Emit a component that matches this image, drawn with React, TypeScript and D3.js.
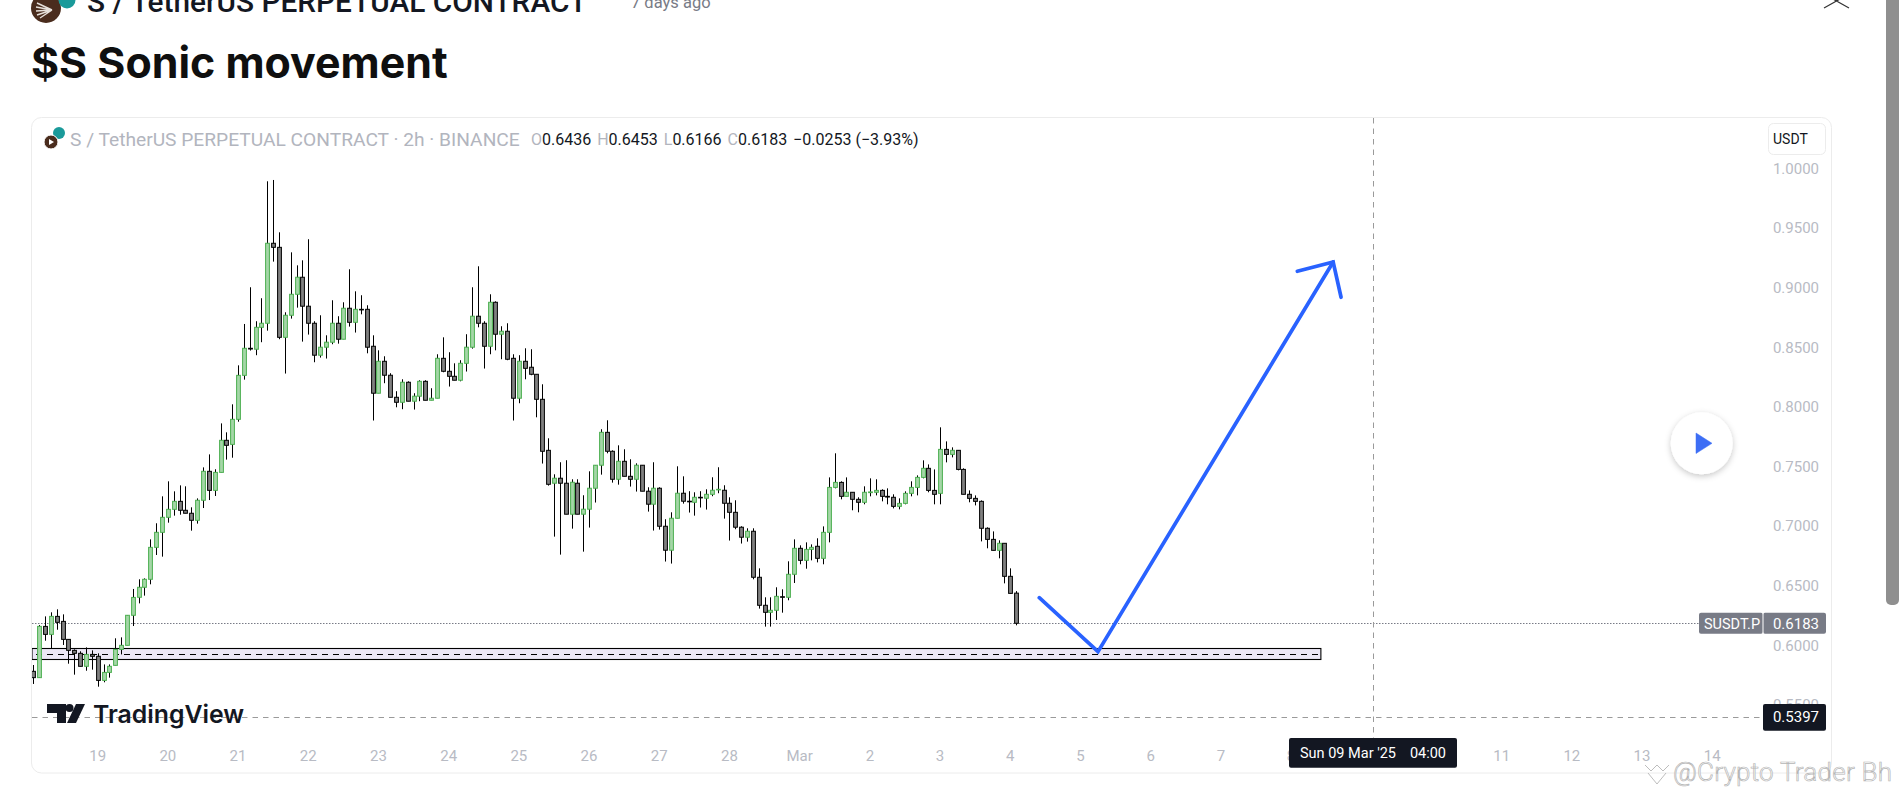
import * as d3 from "d3";

const opens = [
  0.578, 0.5727, 0.6157, 0.609, 0.6241, 0.6199, 0.6048, 0.5956, 0.5931, 0.5822,
  0.5922, 0.5906, 0.5704, 0.5771, 0.583, 0.5964, 0.5998, 0.625, 0.6401, 0.6485,
  0.6552, 0.682, 0.6946, 0.7072, 0.7139, 0.7206, 0.7131, 0.7106, 0.7047, 0.7215,
  0.7458, 0.7298, 0.7449, 0.7718, 0.7684, 0.7894, 0.8263, 0.849, 0.8482, 0.8666,
  0.87, 0.9371, 0.9337, 0.8582, 0.8767, 0.8943, 0.9086, 0.8843, 0.87, 0.8432,
  0.8499, 0.8541, 0.87, 0.8566, 0.8826, 0.8708, 0.8817, 0.8817, 0.8507, 0.8113,
  0.8381, 0.8264, 0.8079, 0.8037, 0.8205, 0.8046, 0.8088, 0.8213, 0.8054, 0.8071,
  0.8406, 0.8297, 0.8255, 0.8222, 0.8364, 0.8499, 0.8759, 0.87, 0.8507, 0.8876,
  0.8608, 0.8633, 0.8406, 0.8071, 0.8381, 0.8331, 0.8272, 0.8062, 0.7634, 0.7358,
  0.74, 0.7358, 0.7098, 0.7358, 0.7098, 0.714, 0.7316, 0.7509, 0.7785, 0.7626,
  0.7391, 0.7542, 0.7416, 0.7391, 0.7509, 0.7291, 0.7182, 0.7316, 0.6997, 0.6796,
  0.7064, 0.7274, 0.7207, 0.7198, 0.724, 0.7232, 0.7265, 0.7304, 0.7299, 0.719,
  0.7114, 0.6989, 0.6905, 0.6955, 0.6569, 0.6334, 0.6275, 0.6292, 0.6406, 0.6401,
  0.6594, 0.6812, 0.6711, 0.6803, 0.6829, 0.6728, 0.6946, 0.7323, 0.7365, 0.7248,
  0.7282, 0.7223, 0.7198, 0.7279, 0.7282, 0.7298, 0.7248, 0.724, 0.7164, 0.7189,
  0.7273, 0.7323, 0.7407, 0.7483, 0.7298, 0.7273, 0.7642, 0.76, 0.7634, 0.7474,
  0.7265, 0.7231, 0.7206, 0.698, 0.6887, 0.6795, 0.6854, 0.6577, 0.6436,
];
const highs = [
  0.5833, 0.6168, 0.6241, 0.6275, 0.63, 0.6258, 0.6048, 0.5964, 0.5948, 0.5981,
  0.5956, 0.5931, 0.5838, 0.5838, 0.6057, 0.6065, 0.625, 0.6471, 0.6552, 0.656,
  0.6887, 0.7022, 0.7248, 0.7374, 0.729, 0.734, 0.7332, 0.7156, 0.7231, 0.7491,
  0.76, 0.7475, 0.786, 0.7785, 0.802, 0.8347, 0.8694, 0.9002, 0.8717, 0.891,
  0.9891, 0.9902, 0.9463, 0.8792, 0.9295, 0.9186, 0.9228, 0.9405, 0.8717, 0.8767,
  0.8599, 0.8893, 0.8759, 0.8876, 0.9153, 0.8968, 0.8935, 0.8851, 0.8599, 0.8473,
  0.8423, 0.8281, 0.813, 0.823, 0.8213, 0.8113, 0.8222, 0.8222, 0.8155, 0.844,
  0.8582, 0.8457, 0.8364, 0.839, 0.8608, 0.9002, 0.9178, 0.8717, 0.8943, 0.8884,
  0.8675, 0.87, 0.844, 0.8432, 0.849, 0.8482, 0.8272, 0.8188, 0.7735, 0.7433,
  0.7534, 0.7551, 0.7391, 0.7391, 0.7257, 0.7458, 0.7509, 0.7811, 0.7886, 0.7634,
  0.7676, 0.7643, 0.7559, 0.7525, 0.7509, 0.7324, 0.7534, 0.7324, 0.7056, 0.7114,
  0.75, 0.7416, 0.7291, 0.7282, 0.7291, 0.7307, 0.7408, 0.7492, 0.7341, 0.724,
  0.7215, 0.6997, 0.698, 0.698, 0.6644, 0.6401, 0.6401, 0.6485, 0.6468, 0.6703,
  0.6887, 0.6837, 0.6862, 0.6845, 0.6896, 0.6996, 0.7407, 0.7609, 0.7374, 0.7407,
  0.7282, 0.724, 0.7332, 0.7399, 0.7391, 0.7307, 0.7315, 0.7265, 0.7231, 0.729,
  0.7374, 0.7424, 0.755, 0.7516, 0.7474, 0.7827, 0.7709, 0.7659, 0.7634, 0.7483,
  0.7298, 0.7256, 0.7214, 0.6988, 0.6954, 0.6879, 0.6854, 0.6644, 0.6453,
];
const lows = [
  0.5674, 0.5727, 0.6037, 0.5973, 0.6129, 0.6001, 0.5844, 0.5752, 0.5822, 0.5785,
  0.5794, 0.5651, 0.5688, 0.5727, 0.583, 0.5922, 0.5998, 0.616, 0.635, 0.6415,
  0.651, 0.6756, 0.6742, 0.7027, 0.7086, 0.7094, 0.7106, 0.696, 0.7019, 0.715,
  0.7217, 0.7251, 0.7449, 0.7556, 0.7572, 0.7874, 0.8227, 0.8471, 0.8432, 0.8541,
  0.8638, 0.9217, 0.8566, 0.8278, 0.8739, 0.8831, 0.8546, 0.8605, 0.8373, 0.8412,
  0.8404, 0.8524, 0.8529, 0.8566, 0.8672, 0.8622, 0.8775, 0.8448, 0.7884, 0.8113,
  0.8197, 0.8079, 0.7995, 0.7979, 0.8046, 0.7976, 0.8046, 0.8054, 0.8054, 0.8071,
  0.8289, 0.8169, 0.8222, 0.8213, 0.8295, 0.8487, 0.8666, 0.832, 0.844, 0.8473,
  0.8398, 0.839, 0.7884, 0.8029, 0.823, 0.8264, 0.7911, 0.7523, 0.7338, 0.691,
  0.6759, 0.7098, 0.6977, 0.7098, 0.6784, 0.6986, 0.7196, 0.743, 0.7609, 0.7363,
  0.7346, 0.7416, 0.733, 0.7288, 0.7291, 0.712, 0.6961, 0.6969, 0.6701, 0.6684,
  0.7064, 0.7187, 0.7112, 0.7086, 0.7154, 0.7137, 0.7249, 0.7274, 0.7061, 0.6877,
  0.6972, 0.6852, 0.6868, 0.6552, 0.6306, 0.6155, 0.6155, 0.6211, 0.6272, 0.6376,
  0.6521, 0.6678, 0.6641, 0.6711, 0.6694, 0.6678, 0.6862, 0.7315, 0.7223, 0.7248,
  0.7131, 0.7114, 0.7181, 0.7248, 0.7256, 0.7206, 0.7181, 0.7147, 0.7139, 0.7181,
  0.7248, 0.7256, 0.7399, 0.7282, 0.7181, 0.7181, 0.7533, 0.7575, 0.7466, 0.7265,
  0.7198, 0.7172, 0.687, 0.6812, 0.6795, 0.6728, 0.6518, 0.6434, 0.6166,
];
const closes = [
  0.5727, 0.6157, 0.609, 0.6241, 0.6191, 0.6048, 0.5956, 0.5931, 0.5822, 0.5922,
  0.5906, 0.5704, 0.5771, 0.5822, 0.5964, 0.5998, 0.625, 0.64, 0.6485, 0.6552,
  0.682, 0.6946, 0.7072, 0.7139, 0.7206, 0.7131, 0.7106, 0.7047, 0.7215, 0.7458,
  0.7298, 0.7449, 0.7718, 0.7676, 0.7894, 0.8263, 0.849, 0.8484, 0.8666, 0.87,
  0.9371, 0.9337, 0.8582, 0.8767, 0.8943, 0.9086, 0.8843, 0.87, 0.8432, 0.8499,
  0.8541, 0.87, 0.8566, 0.8826, 0.8708, 0.8817, 0.8812, 0.8499, 0.8113, 0.8381,
  0.8264, 0.8079, 0.8037, 0.8205, 0.8046, 0.8088, 0.8213, 0.8054, 0.8071, 0.8406,
  0.8297, 0.8255, 0.8222, 0.8364, 0.8499, 0.8759, 0.87, 0.8507, 0.8876, 0.8608,
  0.8633, 0.8398, 0.8071, 0.8381, 0.8322, 0.8272, 0.8062, 0.7626, 0.7349, 0.74,
  0.7358, 0.7098, 0.7366, 0.7098, 0.714, 0.7316, 0.7509, 0.7785, 0.7626, 0.7391,
  0.7542, 0.7416, 0.7391, 0.7509, 0.7291, 0.7182, 0.7316, 0.6997, 0.6796, 0.7064,
  0.7274, 0.7207, 0.7204, 0.724, 0.7237, 0.7265, 0.7299, 0.7307, 0.719, 0.7114,
  0.6989, 0.6905, 0.6955, 0.6569, 0.6334, 0.6275, 0.6292, 0.6409, 0.6401, 0.6594,
  0.6812, 0.6711, 0.6803, 0.682, 0.6728, 0.6946, 0.7323, 0.7365, 0.7248, 0.7282,
  0.7223, 0.7198, 0.7282, 0.7285, 0.7298, 0.7248, 0.7242, 0.7164, 0.7189, 0.7273,
  0.7323, 0.7407, 0.7483, 0.7298, 0.7265, 0.7642, 0.76, 0.7634, 0.7474, 0.7265,
  0.7231, 0.7206, 0.698, 0.6887, 0.6795, 0.6854, 0.6577, 0.6434, 0.6183,
];

const priceTicks = [1.0, 0.95, 0.9, 0.85, 0.8, 0.75, 0.7, 0.65, 0.6, 0.55];
const lastPrice = 0.6183;
const crossPrice = 0.5397;
const zoneTop = 0.5973;
const zoneBottom = 0.5881;
const zoneMid = 0.5929;
const zoneEndBar = 220.1;
const crossBar = 229;
const arrowBars = [171.96, 182, 222.2];
const arrowPrices = [0.6398, 0.5945, 0.9214];
const arrowHeadBars = [216.07, 222.2, 223.55];
const arrowHeadPrices = [0.9136, 0.9214, 0.8918];

const startTime = Date.UTC(2025, 1, 18, 2);
const barMs = 2 * 3600 * 1000;
const barDate = (i: number) => new Date(startTime + i * barMs);
const sans = "Roboto, 'Liberation Sans', sans-serif";

export default function App() {
  const x = d3
    .scaleUtc()
    .domain([barDate(0), barDate(168)])
    .range([33.3, 1016.1]);
  const y = d3.scaleLinear().domain([1, 0.5]).range([168.3, 764.3]);
  const bx = (i: number) => x(barDate(i));
  const crisp = (v: number) => Math.round(v) + 0.5;

  const days = d3.utcDay.range(new Date(Date.UTC(2025, 1, 19)), new Date(Date.UTC(2025, 2, 15)));
  const dayLabel = (d: Date) => (d.getUTCDate() === 1 ? "Mar" : String(d.getUTCDate()));

  const arrow = d3
    .line<number>()
    .x((b) => bx(b))
    .y((_, k) => y(arrowPrices[k]))(arrowBars);
  const head = d3
    .line<number>()
    .x((b) => bx(b))
    .y((_, k) => y(arrowHeadPrices[k]))(arrowHeadBars);

  return (
    <svg
      width={1900}
      height={795}
      style={{ position: "fixed", left: 0, top: 0, display: "block", background: "#fff" }}
    >
      <defs>
        <clipPath id="plot">
          <rect x={32} y={118} width={1799} height={620} />
        </clipPath>
        <filter id="btnShadow" x="-30%" y="-30%" width="160%" height="170%">
          <feDropShadow dx="0" dy="2" stdDeviation="3" floodColor="#000" floodOpacity="0.22" />
        </filter>
      </defs>

      {/* page header, cut off by the top of the screenshot */}
      <circle cx={46} cy={8} r={15} fill="#4a2c1d" />
      <circle cx={67} cy={0} r={8.5} fill="#1a9a9a" />
      <path
        d="M52 10 L37 3 M52 10 L36 7 M52 10 L36 11 M52 10 L37 15 M52 10 L40 18"
        stroke="#e6e0da"
        strokeWidth={1.4}
        fill="none"
      />
      <text x={87} y={12} fontFamily={sans} fontWeight={500} fontSize={29.8} fill="#131722">
        S / TetherUS PERPETUAL CONTRACT
      </text>
      <text x={631} y={8} fontFamily={sans} fontSize={16.5} fill="#787b86">
        7 days ago
      </text>
      <text x={31} y={78} fontFamily="Inter, sans-serif" fontWeight={700} fontSize={42.9} fill="#0f0f0f">
        $S Sonic movement
      </text>
      <path d="M1824 -6 L1849 8 M1849 -6 L1824 8" stroke="#333" strokeWidth={1.2} />

      {/* scrollbar */}
      <rect x={1886} y={-10} width={13} height={615} rx={5} fill="#8f8f8f" />

      {/* card */}
      <rect x={31.5} y={117.5} width={1800} height={655.5} rx={10} fill="#fff" stroke="#ececec" strokeWidth={1} />

      {/* zone */}
      <g clipPath="url(#plot)">
        <rect
          x={32}
          y={crisp(y(zoneTop))}
          width={bx(zoneEndBar) - 32}
          height={Math.round(y(zoneBottom) - y(zoneTop))}
          fill="#ece7f6"
          stroke="#000"
          strokeWidth={1.1}
        />
        <line
          x1={36}
          x2={bx(zoneEndBar) - 2}
          y1={crisp(y(zoneMid))}
          y2={crisp(y(zoneMid))}
          stroke="#000"
          strokeWidth={1}
          strokeDasharray="6 5"
        />

        {/* last price line */}
        <line
          x1={32}
          x2={1699}
          y1={crisp(y(lastPrice))}
          y2={crisp(y(lastPrice))}
          stroke="#787b86"
          strokeWidth={1}
          strokeDasharray="1.5 1.5"
        />

        {/* crosshair */}
        <line
          x1={32}
          x2={1763}
          y1={crisp(y(crossPrice))}
          y2={crisp(y(crossPrice))}
          stroke="#9a9a9a"
          strokeWidth={1}
          strokeDasharray="5.5 5"
        />
        <line
          x1={crisp(bx(crossBar))}
          x2={crisp(bx(crossBar))}
          y1={118}
          y2={738}
          stroke="#9a9a9a"
          strokeWidth={1}
          strokeDasharray="5.5 5"
        />

        {/* candles */}
        {opens.map((o, i) => {
          const c = closes[i];
          const up = c >= o;
          const cx = crisp(bx(i));
          const top = y(Math.max(o, c));
          const bottom = y(Math.min(o, c));
          return (
            <g key={i}>
              <line x1={cx} x2={cx} y1={y(highs[i])} y2={y(lows[i])} stroke="#000" strokeWidth={1} />
              <rect
                x={cx - 1.9}
                y={top}
                width={3.8}
                height={Math.max(bottom - top, 0.6)}
                fill={up ? "#a5d6a7" : "#808080"}
                stroke={up ? "#4caf50" : "#000"}
                strokeWidth={1}
              />
            </g>
          );
        })}
      </g>

      {/* hand drawn arrow */}
      <g fill="none" stroke="#2962ff" strokeWidth={3.7} strokeLinecap="round" strokeLinejoin="miter">
        <path d={arrow ?? ""} />
        <path d={head ?? ""} />
      </g>

      {/* legend */}
      <circle cx={59} cy={133} r={6} fill="#1a9a9a" />
      <circle cx={51} cy={142} r={7} fill="#4a2c1d" stroke="#fff" strokeWidth={1} />
      <path d="M49 139 L54 142 L49 145 Z" fill="#fff" />
      <text x={70} y={145.5} fontFamily={sans} fontSize={19.2} fill="#b2b5be">
        S / TetherUS PERPETUAL CONTRACT · 2h · BINANCE
      </text>
      <text x={531} y={144.5} fontFamily={sans} fontSize={16} fill="#131722">
        <tspan fill="#b2b5be">O</tspan>0.6436 <tspan fill="#b2b5be" dx={2}>H</tspan>0.6453{" "}
        <tspan fill="#b2b5be" dx={2}>L</tspan>0.6166 <tspan fill="#b2b5be" dx={2}>C</tspan>0.6183{" "}
        <tspan dx={2}>−0.0253 (−3.93%)</tspan>
      </text>

      {/* price axis */}
      {priceTicks.map((p) => (
        <text
          key={p}
          x={1819}
          y={y(p)}
          dy="0.36em"
          textAnchor="end"
          fontFamily={sans}
          fontSize={15}
          fill="#b8bbc4"
        >
          {p.toFixed(4)}
        </text>
      ))}

      {/* currency button */}
      <rect x={1768.5} y={123.5} width={57} height={31} rx={5} fill="#fff" stroke="#ececec" />
      <text x={1773} y={144} fontFamily={sans} fontSize={14} fill="#131722">
        USDT
      </text>

      {/* play button */}
      <circle cx={1701.7} cy={443.3} r={31} fill="#fff" filter="url(#btnShadow)" />
      <path d="M1696 433 L1712 443.3 L1696 453.5 Z" fill="#3d6ef5" stroke="#3d6ef5" strokeWidth={0.5} />

      {/* last price tag */}
      <rect x={1699} y={y(lastPrice) - 10.5} width={64} height={21} rx={2} fill="#787b86" />
      <rect x={1763} y={y(lastPrice) - 10.5} width={63} height={21} rx={2} fill="#787b86" />
      <line x1={1763} x2={1763} y1={y(lastPrice) - 10.5} y2={y(lastPrice) + 10.5} stroke="#fff" />
      <text x={1704} y={y(lastPrice)} dy="0.36em" fontFamily={sans} fontSize={14.5} fill="#fff">
        SUSDT.P
      </text>
      <text x={1819} y={y(lastPrice)} dy="0.36em" textAnchor="end" fontFamily={sans} fontSize={15} fill="#fff">
        {lastPrice.toFixed(4)}
      </text>

      {/* crosshair price tag */}
      <rect x={1763} y={704} width={63} height={26.7} rx={2} fill="#131722" />
      <text x={1819} y={y(crossPrice)} dy="0.36em" textAnchor="end" fontFamily={sans} fontSize={15} fill="#fff">
        {crossPrice.toFixed(4)}
      </text>

      {/* time axis */}
      {days.map((d) => (
        <text
          key={d.getTime()}
          x={x(d)}
          y={755.7}
          dy="0.36em"
          textAnchor="middle"
          fontFamily={sans}
          fontSize={15}
          fill="#b8bbc4"
        >
          {dayLabel(d)}
        </text>
      ))}

      {/* crosshair time tag */}
      <rect x={1289} y={738} width={168} height={29.7} rx={2} fill="#131722" />
      <text x={1300} y={753} dy="0.36em" fontFamily={sans} fontSize={14.5} fill="#fff">
        Sun 09 Mar '25
      </text>
      <text x={1446} y={753} dy="0.36em" textAnchor="end" fontFamily={sans} fontSize={14.5} fill="#fff">
        04:00
      </text>

      {/* TradingView logo */}
      <g fill="#131722">
        <path d="M47 704 H66 V723 H57 V713 H47 Z" />
        <circle cx={69.5} cy={708} r={4} />
        <path d="M76 704 H85 L76 723 H67 Z" />
      </g>
      <text x={93} y={722.5} fontFamily="Inter, sans-serif" fontWeight={600} fontSize={24.8} fill="#131722">
        TradingView
      </text>

      {/* watermark */}
      <g fill="#fff" stroke="#b5b5b5" strokeWidth={0.9}>
        <path d="M1645 765 L1651 771 L1657 765 L1663 771 L1669 765" fill="none" />
        <path d="M1648 773 L1657 784 L1666 773" fill="none" />
        <text
          x={1673}
          y={781}
          fontFamily={sans}
          fontWeight={300}
          fontSize={26}
          textLength={219}
          lengthAdjust="spacing"
          strokeWidth={0.7}
        >
          @Crypto Trader Bh
        </text>
      </g>
    </svg>
  );
}
